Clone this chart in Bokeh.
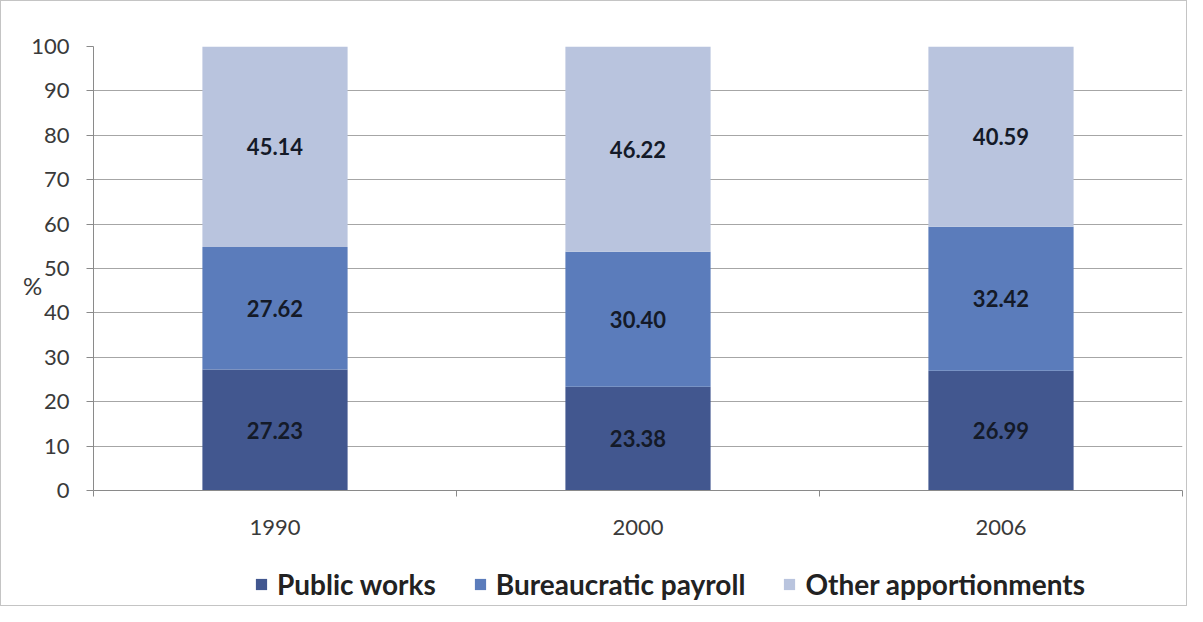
from bokeh.plotting import figure
from bokeh.layouts import column
from bokeh.models import Range1d, FixedTicker, Legend, LegendItem, ColumnDataSource
from bokeh.core.properties import value
from bokeh.embed import file_html
from bokeh.resources import INLINE

years = ["1990", "2000", "2006"]
public_works = [27.23, 23.38, 26.99]
bureaucratic_payroll = [27.62, 30.40, 32.42]
other_apportionments = [45.14, 46.22, 40.59]
series_names = ["Public works", "Bureaucratic payroll", "Other apportionments"]
colors = ["#42578f", "#5b7cbb", "#b9c4de"]

FONT = "Lato"
xs = [i + 0.5 for i in range(len(years))]
W = 1185

p = figure(width=W, height=548, output_backend="svg", toolbar_location=None,
           x_range=Range1d(0, len(years)), y_range=Range1d(0, 100),
           min_border_left=92, min_border_top=45, min_border_right=4, min_border_bottom=59)
p.outline_line_color = None
p.background_fill_color = "white"
p.border_fill_color = "white"

src = ColumnDataSource(dict(x=xs, pw=public_works, bp=bureaucratic_payroll, oa=other_apportionments))
renderers = p.vbar_stack(["pw", "bp", "oa"], x="x", width=0.4, source=src,
                         color=colors, line_color=None)

# labels centered in segments
bottoms = [0.0] * len(years)
for vals in (public_works, bureaucratic_payroll, other_apportionments):
    mids = [b + v / 2 for b, v in zip(bottoms, vals)]
    p.text(x=xs, y=mids, text=["%.2f" % v for v in vals], text_align="center",
           text_baseline="middle", text_font=value(FONT), text_font_style="bold",
           text_font_size="22px", text_color="#141a28")
    bottoms = [b + v for b, v in zip(bottoms, vals)]

# axes
p.xaxis.ticker = FixedTicker(ticks=xs, minor_ticks=list(range(len(years) + 1)))
p.xaxis.major_label_overrides = {x: y for x, y in zip(xs, years)}
p.xaxis.major_tick_line_color = None
p.xaxis.major_tick_out = 0
p.xaxis.major_tick_in = 0
p.xaxis.minor_tick_line_color = "#8a8a8a"
p.xaxis.minor_tick_out = 6
p.xaxis.minor_tick_in = 0
p.xaxis.major_label_standoff = 23
p.xaxis.axis_line_color = "#8a8a8a"

p.yaxis.ticker = FixedTicker(ticks=list(range(0, 101, 10)))
p.yaxis.major_tick_out = 7
p.yaxis.major_tick_in = 0
p.yaxis.minor_tick_line_color = None
p.yaxis.major_tick_line_color = "#8a8a8a"
p.yaxis.axis_line_color = "#8a8a8a"
p.yaxis.major_label_standoff = 17
p.yaxis.axis_label = "\n%"
p.yaxis.axis_label_orientation = "horizontal"
p.yaxis.axis_label_standoff = -14
p.yaxis.axis_label_text_font_style = "normal"
p.yaxis.axis_label_text_font_size = "24px"
p.yaxis.axis_label_text_font = FONT
p.yaxis.axis_label_text_color = "#3a3a3a"

for ax in (p.xaxis, p.yaxis):
    ax.major_label_text_font = FONT
    ax.major_label_text_font_size = "22px"
    ax.major_label_text_color = "#3a3a3a"

p.xgrid.grid_line_color = None
p.ygrid.grid_line_color = "#a6a6a6"
p.ygrid.grid_line_width = 1

# legend strip (separate figure so the legend isn't clipped by the frame)
q = figure(width=W, height=56, output_backend="svg", toolbar_location=None,
           x_range=Range1d(0, len(years)), y_range=Range1d(1000, 1001),
           x_axis_location=None, y_axis_location=None,
           min_border_left=0, min_border_top=0, min_border_right=0, min_border_bottom=0)
q.outline_line_color = None
q.grid.visible = False
q_renderers = q.vbar_stack(["pw", "bp", "oa"], x="x", width=0.4, source=src,
                           color=colors, line_color=None)
legend = Legend(items=[LegendItem(label=n, renderers=[r]) for n, r in zip(series_names, q_renderers)],
                orientation="horizontal", location=(161, 4),
                glyph_width=14, glyph_height=14, label_standoff=9, spacing=37,
                label_text_font=FONT, label_text_font_style="bold",
                label_text_font_size="28px", label_text_color="#222222",
                border_line_color=None, background_fill_alpha=0, padding=0, margin=0)
q.add_layout(legend, "center")

layout = column(p, q, spacing=0, styles={"border": "1px solid #c4c4c4"})

open("out.html", "w").write(file_html(layout, INLINE))
